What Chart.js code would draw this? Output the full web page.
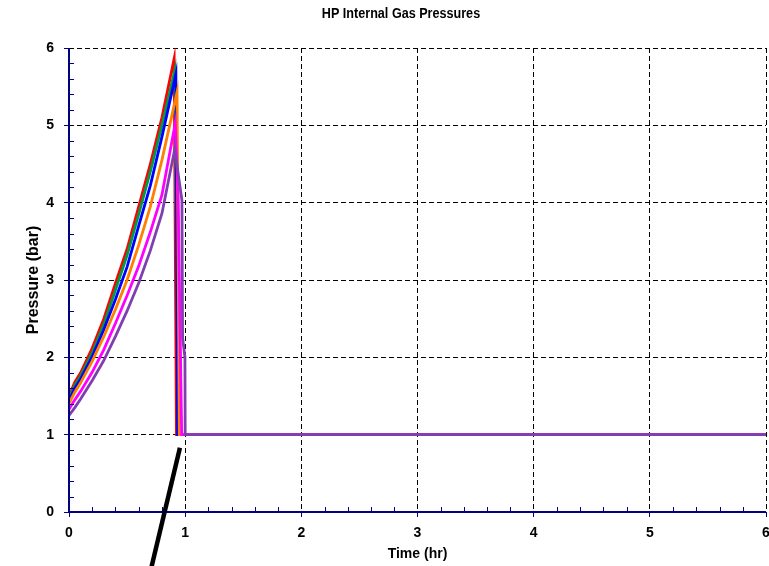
<!DOCTYPE html>
<html>
<head>
<meta charset="utf-8">
<title>HP Internal Gas Pressures</title>
<script src="https://cdn.jsdelivr.net/npm/chart.js@4.4.0/dist/chart.umd.min.js"></script>
<style>
  body { margin: 0; background: #ffffff; }
</style>
</head>
<body>
<canvas id="pressureChart" width="769" height="566"></canvas>
<script>
// Gas pressure traces: time (hr) and pressure (bar) for each run
const run1Time     = [0, 0.05, 0.1, 0.2, 0.3, 0.4, 0.5, 0.6, 0.7, 0.8, 0.905, 0.925, 6];
const run1Pressure = [1.50, 1.68, 1.80, 2.12, 2.50, 2.96, 3.40, 3.95, 4.50, 5.10, 5.86, 1.00, 1.00];

const run2Time     = [0, 0.05, 0.1, 0.2, 0.3, 0.4, 0.5, 0.6, 0.7, 0.8, 0.912, 0.94, 6];
const run2Pressure = [1.47, 1.64, 1.76, 2.06, 2.43, 2.87, 3.32, 3.85, 4.40, 5.00, 5.72, 1.00, 1.00];

const run3Time     = [0, 0.05, 0.1, 0.2, 0.3, 0.4, 0.5, 0.6, 0.7, 0.8, 0.92, 0.935, 6];
const run3Pressure = [1.44, 1.60, 1.72, 2.01, 2.36, 2.75, 3.17, 3.70, 4.22, 4.85, 5.66, 1.00, 1.00];

const run4Time     = [0, 0.05, 0.1, 0.2, 0.3, 0.4, 0.5, 0.6, 0.7, 0.8, 0.93, 0.95, 6];
const run4Pressure = [1.40, 1.55, 1.67, 1.95, 2.27, 2.62, 3.00, 3.45, 3.95, 4.55, 5.43, 1.00, 1.00];

const run5Time     = [0, 0.05, 0.1, 0.2, 0.3, 0.4, 0.5, 0.6, 0.7, 0.8, 0.915, 0.94, 0.97, 6];
const run5Pressure = [1.33, 1.45, 1.56, 1.81, 2.10, 2.44, 2.80, 3.18, 3.62, 4.10, 5.03, 4.05, 1.00, 1.00];

const run6Time     = [0, 0.05, 0.1, 0.2, 0.3, 0.4, 0.5, 0.6, 0.7, 0.8, 0.91, 0.972, 0.978, 0.998, 1.0, 6];
const run6Pressure = [1.25, 1.35, 1.46, 1.70, 1.96, 2.27, 2.60, 2.96, 3.38, 3.86, 4.69, 4.03, 2.25, 2.00, 1.00, 1.00];

const runColors = ['#ff0000', '#009a44', '#0000ff', '#ff8000', '#ff00ff', '#7f3fb0'];

// pointer stroke near the vent time, in data units
const pointerTime     = [0.955, 0.696];
const pointerPressure = [0.83, -0.80];

const axisBlue = '#000080';
const fontFamily = '"Liberation Sans", Arial, sans-serif';

function toPoints(times, pressures) {
    return times.map((t, i) => ({ x: t, y: pressures[i] }));
}

const runs = [
    [run1Time, run1Pressure],
    [run2Time, run2Pressure],
    [run3Time, run3Pressure],
    [run4Time, run4Pressure],
    [run5Time, run5Pressure],
    [run6Time, run6Pressure]
];

const datasets = runs.map(([t, p], i) => ({
    label: 'Run ' + (i + 1),
    data: toPoints(t, p),
    borderColor: runColors[i],
    borderWidth: 2.8,
    pointRadius: 0,
    tension: 0,
    fill: false,
    order: runs.length - i   // last run sits on top
}));

// chart title, a little condensed like the original export
const titlePlugin = {
    id: 'plotTitle',
    afterDraw: (chart) => {
        const ctx = chart.ctx;
        ctx.save();
        ctx.font = 'bold 14px ' + fontFamily;
        ctx.fillStyle = '#000000';
        ctx.textAlign = 'center';
        ctx.textBaseline = 'middle';
        ctx.translate(401, 14);
        ctx.scale(0.9, 1);
        ctx.fillText('HP Internal Gas Pressures', 0, 0);
        ctx.restore();
    }
};

// solid axis lines plus small inward ticks between the labelled ones
const axisPlugin = {
    id: 'axisLines',
    afterDatasetsDraw: (chart) => {
        const ctx = chart.ctx;
        const xs = chart.scales.x;
        const ys = chart.scales.y;
        const area = chart.chartArea;
        ctx.save();
        ctx.strokeStyle = axisBlue;
        ctx.lineWidth = 1;
        ctx.beginPath();
        for (let i = 1; i < 30; i++) {
            if (i % 5 === 0) continue;
            const px = Math.round(xs.getPixelForValue(i * 0.2)) + 0.5;
            ctx.moveTo(px, area.bottom);
            ctx.lineTo(px, area.bottom - 5);
            const py = Math.round(ys.getPixelForValue(i * 0.2)) + 0.5;
            ctx.moveTo(area.left, py);
            ctx.lineTo(area.left + 5, py);
        }
        ctx.stroke();

        const left = Math.round(area.left);
        const bottom = Math.round(area.bottom);
        ctx.lineWidth = 2;
        ctx.beginPath();
        ctx.moveTo(left, area.top);
        ctx.lineTo(left, bottom);
        ctx.lineTo(area.right, bottom);
        ctx.stroke();
        ctx.restore();
    }
};

// heavy black pointer stroke running off the bottom edge
const pointerPlugin = {
    id: 'pointer',
    afterDraw: (chart) => {
        const ctx = chart.ctx;
        const xs = chart.scales.x;
        const ys = chart.scales.y;
        ctx.save();
        ctx.strokeStyle = '#000000';
        ctx.lineWidth = 4.5;
        ctx.beginPath();
        ctx.moveTo(xs.getPixelForValue(pointerTime[0]), ys.getPixelForValue(pointerPressure[0]));
        ctx.lineTo(xs.getPixelForValue(pointerTime[1]), ys.getPixelForValue(pointerPressure[1]));
        ctx.stroke();
        ctx.restore();
    }
};

const gridStyle = {
    color: '#000000',
    lineWidth: 1,
    tickColor: axisBlue,
    tickLength: 5,
    tickWidth: 1,
    tickBorderDash: []
};

// the dash here applies to the grid lines; the axis line itself is drawn by axisPlugin
const borderStyle = { display: false, dash: [5, 3] };

new Chart(document.getElementById('pressureChart').getContext('2d'), {
    type: 'line',
    data: { datasets: datasets },
    options: {
        responsive: false,
        animation: false,
        devicePixelRatio: 1,
        layout: { padding: { left: 0, right: 3, top: 48, bottom: 0 } },
        plugins: {
            legend: { display: false },
            title: { display: false },
            tooltip: { enabled: false }
        },
        scales: {
            x: {
                type: 'linear',
                min: 0,
                max: 6,
                ticks: {
                    stepSize: 1,
                    color: '#000000',
                    padding: 8,
                    font: { family: fontFamily, size: 14, weight: 'bold' }
                },
                grid: gridStyle,
                border: borderStyle,
                title: {
                    display: true,
                    text: 'Time (hr)',
                    color: '#000000',
                    padding: { top: 0, bottom: 3 },
                    font: { family: fontFamily, size: 14, weight: 'bold' }
                },
                afterFit: (scale) => {
                    scale.height = 54;
                    scale.paddingLeft = 0;
                    scale.paddingRight = 0;
                }
            },
            y: {
                type: 'linear',
                min: 0,
                max: 6,
                ticks: {
                    stepSize: 1,
                    color: '#000000',
                    padding: 10,
                    font: { family: fontFamily, size: 14, weight: 'bold' }
                },
                grid: gridStyle,
                border: borderStyle,
                title: {
                    display: true,
                    text: 'Pressure (bar)',
                    color: '#000000',
                    padding: { top: 24, bottom: 0 },
                    font: { family: fontFamily, size: 16, weight: 'bold' }
                },
                afterFit: (scale) => {
                    scale.width = 69;
                    scale.paddingTop = 0;
                    scale.paddingBottom = 0;
                }
            }
        }
    },
    plugins: [titlePlugin, axisPlugin, pointerPlugin]
});
</script>
</body>
</html>
